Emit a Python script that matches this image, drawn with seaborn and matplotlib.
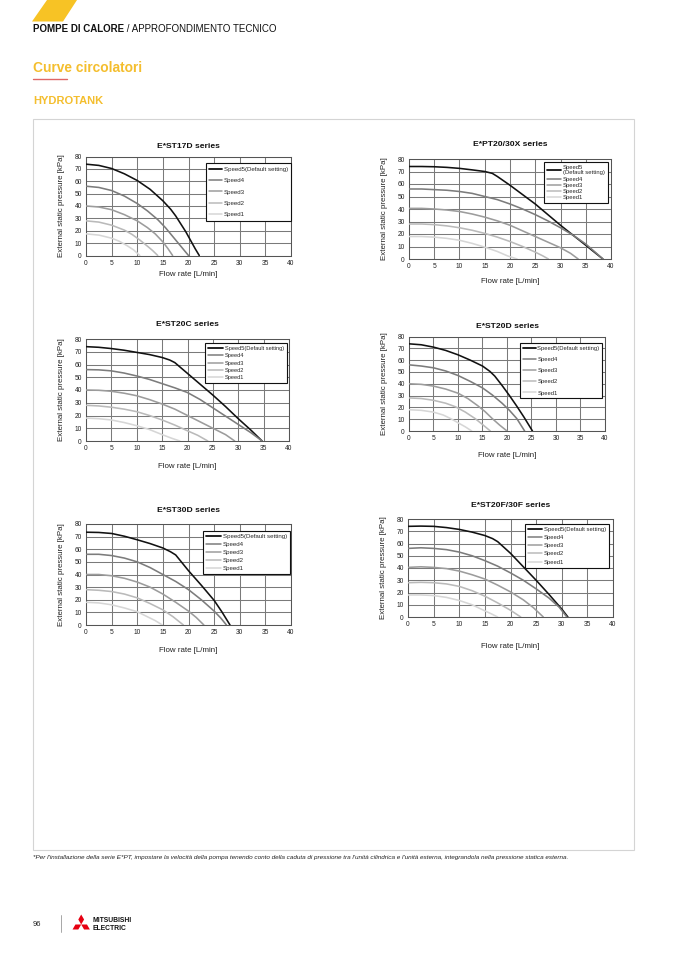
import numpy as np
import pandas as pd
import matplotlib
matplotlib.use("Agg")
import matplotlib.pyplot as plt
import seaborn as sns
from matplotlib.patches import Polygon, Rectangle
from matplotlib.lines import Line2D

# ---------------- data ----------------
speed_labels = ["Speed5(Default setting)", "Speed4", "Speed3", "Speed2", "Speed1"]
speed_colors = ["#111111", "#7c7c7c", "#9c9c9c", "#bababa", "#d6d6d6"]
x_ticks = [0, 5, 10, 15, 20, 25, 30, 35, 40]
y_ticks = [0, 10, 20, 30, 40, 50, 60, 70, 80]

titles = ["E*ST17D series", "E*PT20/30X series", "E*ST20C series",
          "E*ST20D series", "E*ST30D series", "E*ST20F/30F series"]

# E*ST17D  (Speed5, Speed4, Speed3, Speed2, Speed1)
st17d_x = [[0, 2.5, 5, 7.5, 10, 12.5, 15, 16.5, 17.5, 18.5, 19.5, 20.5, 21.3, 22.1],
           [0, 2.5, 5, 7.5, 10, 12, 14, 15.5, 17, 18.5, 20],
           [0, 2.5, 5, 7.5, 10, 12, 13.5, 15, 16, 16.9],
           [0, 2.5, 5, 7.5, 9, 10.5, 12, 13, 14],
           [0, 2.5, 5, 6.5, 8, 9.3, 10.5]]
st17d_y = [[73.8, 72.8, 70.3, 66, 60.6, 53.5, 44.2, 37.5, 32, 25.5, 19, 11.5, 5.5, 0],
           [56, 55, 52.5, 48, 42, 36, 29, 22.5, 15, 7.5, 0],
           [40, 39.2, 37, 33, 28, 22.5, 17.5, 11, 5.5, 0],
           [28, 27, 24.5, 20.5, 17, 12.5, 7.5, 4, 0],
           [17.5, 16.5, 14, 11.5, 8, 4.5, 0]]

# E*PT20/30X
pt20_x = [[0, 2.5, 5, 7.5, 10, 12.5, 15, 16.5, 17.5, 20, 22.5, 25, 27.5, 30, 32.5, 35, 37, 38.4],
          [0, 2.5, 5, 7.5, 10, 12.5, 15, 17.5, 20, 22.5, 25, 27.5, 30, 32.5, 35, 37, 38.4],
          [0, 2.5, 5, 7.5, 10, 12.5, 15, 17.5, 20, 22.5, 25, 27.5, 30, 32, 33.5],
          [0, 2.5, 5, 7.5, 10, 12.5, 15, 17.5, 20, 22.5, 25, 26.5, 27.6],
          [0, 2.5, 5, 7.5, 10, 12.5, 15, 17.5, 19.5, 21.4]]
pt20_y = [[74, 74, 73.8, 73.3, 72.5, 71.3, 70, 68.5, 66, 59, 51.5, 44, 35.5, 27, 19, 11, 4.5, 0],
          [56, 56, 55.5, 55, 54, 52.5, 50, 47.5, 44, 40, 35.5, 30.5, 25, 19, 12, 5, 0],
          [40.5, 40.5, 40, 39.2, 38, 36, 33.5, 30.5, 27, 22.5, 18, 13.5, 9, 4.5, 0],
          [28, 28, 27.5, 26.5, 25, 23, 20.5, 17.5, 14, 10, 5.5, 2.5, 0],
          [18, 18, 17.5, 16.5, 15, 12.5, 9.5, 6, 2.5, 0]]

# E*ST20C
st20c_x = [[0, 2.5, 5, 7.5, 10, 12.5, 15, 16.5, 17.5, 20, 22.5, 25, 27.5, 30, 32.5, 34.7],
           [0, 2.5, 5, 7.5, 10, 12.5, 15, 17.5, 20, 22.5, 25, 27.5, 30, 32.5, 34.7],
           [0, 2.5, 5, 7.5, 10, 12.5, 15, 17.5, 20, 22.5, 25, 27.5, 29.3],
           [0, 2.5, 5, 7.5, 10, 12.5, 15, 17.5, 20, 22, 24],
           [0, 2.5, 5, 7.5, 10, 12.5, 15, 17, 18.5]]
st20c_y = [[74, 73.5, 72.5, 71.2, 69.5, 67.8, 65.5, 63.5, 61.5, 53, 44.5, 36, 27, 17.5, 8.5, 0],
           [56, 55.8, 55, 53.3, 51, 48.3, 45, 41.7, 38, 32.5, 26, 19.5, 13, 6.5, 0],
           [40, 39.8, 39, 37.5, 35.5, 32.5, 29, 25, 20, 15, 10, 5, 0],
           [28, 27.5, 26.5, 25, 23, 20, 16.5, 12.5, 8, 4.5, 0],
           [18, 17.5, 16.5, 14.5, 12, 9, 5, 2, 0]]

# E*ST20D
st20d_x = [[0, 2.5, 5, 7.5, 10, 12.5, 15, 16.5, 17.5, 19, 20.5, 22, 23.5, 25.2],
           [0, 2.5, 5, 7.5, 10, 12.5, 15, 17, 19, 20.5, 22, 23.6],
           [0, 2.5, 5, 7.5, 10, 12, 14, 15.5, 17, 18.5, 20],
           [0, 2.5, 5, 7.5, 9.5, 11.5, 13.5, 15, 16.6],
           [0, 2.5, 5, 7, 8.5, 10, 11.5, 12.8]]
st20d_y = [[73.8, 73, 71, 68.2, 64.5, 60, 55, 50.5, 46.5, 38.5, 30, 21, 11.5, 0],
           [56, 55, 53.5, 50.8, 47, 42, 36.5, 30.5, 23.5, 17.5, 10.5, 0],
           [40, 39.5, 38, 35.5, 32, 27.5, 21.5, 16.5, 10.5, 5, 0],
           [28, 27.5, 26, 23.5, 20.5, 16, 10.5, 5.5, 0],
           [18, 17.5, 16, 13.5, 10.5, 7, 3.5, 0]]

# E*ST30D
st30d_x = [[0, 2.5, 5, 7.5, 10, 12.5, 15, 16.5, 17.5, 20, 22.5, 25, 26.5, 28.1],
           [0, 2.5, 5, 7.5, 10, 12.5, 15, 17.5, 20, 22.5, 25, 26.3, 27.4],
           [0, 2.5, 5, 7.5, 10, 12.5, 15, 17.5, 20, 21.5, 23],
           [0, 2.5, 5, 7.5, 10, 12.5, 15, 17, 19],
           [0, 2.5, 5, 7.5, 10, 12, 13.5, 14.9]]
st30d_y = [[73.5, 73.3, 72.5, 70.3, 67.5, 64.5, 61, 58, 55.5, 43, 31.5, 19.5, 10.5, 0],
           [56, 56, 55, 53, 50, 45.5, 40, 34.5, 28, 20, 11, 5.5, 0],
           [40, 40, 39, 37, 34, 30, 24.5, 18, 11, 6, 0],
           [28, 27.5, 26.5, 24.5, 21.5, 17, 12, 6.5, 0],
           [18, 17.5, 16, 13.5, 10.5, 6.5, 3.5, 0]]

# E*ST20F/30F
st20f_x = [[0, 2.5, 5, 7.5, 10, 12.5, 15, 16.5, 17.5, 20, 22.5, 25, 27.5, 30, 31.2],
           [0, 2.5, 5, 7.5, 10, 12.5, 15, 17.5, 20, 22.5, 25, 27.5, 29.5, 31],
           [0, 2.5, 5, 7.5, 10, 12.5, 15, 17.5, 20, 22.5, 24.5, 26.4],
           [0, 2.5, 5, 7.5, 10, 12.5, 15, 17.5, 20, 22],
           [0, 2.5, 5, 7.5, 10, 12.5, 15, 16.3, 17.5]]
st20f_y = [[74, 74.2, 74, 73, 71.5, 69.3, 66.5, 64, 61.5, 52, 41, 30, 18.5, 6.5, 0],
           [56, 56.5, 56, 55, 53, 50, 46, 41.5, 36, 30, 23, 15.5, 8, 0],
           [40.5, 41, 40.5, 39.5, 37.5, 34.5, 31, 26, 20.5, 14, 7.5, 0],
           [28, 28.3, 28, 27, 25, 21.5, 17, 11.5, 5.5, 0],
           [18, 18, 17.5, 16, 13.5, 10, 5, 2.5, 0]]

chart_x = [st17d_x, pt20_x, st20c_x, st20d_x, st30d_x, st20f_x]
chart_y = [st17d_y, pt20_y, st20c_y, st20d_y, st30d_y, st20f_y]

# ---------------- layout (pixels) ----------------
W, H = 677, 958
# left, right, top, bottom of each plotting area
boxes = [(86, 291, 156.5, 255.5), (409, 611, 159, 259), (86, 289, 339, 441),
         (409, 605, 336.5, 431), (86, 291, 524, 625), (408, 613, 519, 617)]
title_y = [146, 145, 325, 326.7, 511, 505.7]
xlabel_y = [275, 281.7, 466.7, 455.7, 650.7, 646]
# legend: right edge, top edge (px), font size (pt), row height (px), handle length (em)
legend_spec = [(291, 163.3, 4.45, 12.3, 2.1), (607.7, 161.7, 4.2, 6.9, 2.4),
               (286.7, 343.3, 4.1, 8.0, 2.6), (602.3, 343.3, 4.2, 11.8, 2.2),
               (290, 531, 4.4, 8.8, 2.4), (609, 524, 4.2, 8.9, 2.4)]

sns.set_theme(style="white")
plt.rcParams["font.family"] = ["Liberation Sans", "DejaVu Sans"]

fig = plt.figure(figsize=(W / 100, H / 100), dpi=100)
fig.patch.set_facecolor("white")


def fx(px):
    return px / W


def fy(py):
    return 1 - py / H


# header
fig.patches.append(Polygon([[fx(32), fy(21.5)], [fx(47), fy(0)], [fx(77), fy(0)], [fx(63), fy(21.5)]],
                           closed=True, transform=fig.transFigure, facecolor="#F7C325",
                           edgecolor="none"))
t1 = fig.text(fx(33), fy(29), "POMPE DI CALORE", fontsize=7.0, fontweight="bold",
              color="#111111", va="center", ha="left")
fig.canvas.draw()
bb = t1.get_window_extent(fig.canvas.get_renderer())
fig.text(bb.x1 / W, fy(29), " / APPROFONDIMENTO TECNICO", fontsize=7.0, color="#111111",
         va="center", ha="left")
fig.text(fx(33), fy(68), "Curve circolatori", fontsize=9.9, fontweight="bold", color="#F4BE2E",
         va="center", ha="left")
fig.add_artist(Line2D([fx(33), fx(67)], [fy(79.3), fy(79.3)], color="#E06666", lw=1.0,
                      transform=fig.transFigure))
fig.text(fx(33), fy(101.5), "HYDROTANK", fontsize=8.0, fontweight="bold", color="#F4BE2E",
         va="center", ha="left")

# outer frame
fig.patches.append(Rectangle((fx(33), fy(850)), fx(634) - fx(33), fy(118.5) - fy(850),
                             transform=fig.transFigure, facecolor="none", edgecolor="#d4d4d4",
                             lw=0.8))

for i in range(6):
    l, r, t, b = boxes[i]
    ax = fig.add_axes([fx(l), fy(b), (r - l) / W, (b - t) / H])
    rows = []
    for k, lab in enumerate(speed_labels):
        for j, (xv, yv) in enumerate(zip(chart_x[i][k], chart_y[i][k])):
            rows.append({"flow": xv, "pressure": yv, "speed": lab, "order": j})
    df = pd.DataFrame(rows)
    sns.lineplot(data=df, x="flow", y="pressure", hue="speed", hue_order=speed_labels,
                 palette=dict(zip(speed_labels, speed_colors)), sort=False, estimator=None,
                 linewidth=1.15, legend=False, ax=ax, zorder=3)
    ax.set_xlim(0, 40)
    ax.set_ylim(0, 80)
    ax.set_xticks(x_ticks)
    ax.set_yticks(y_ticks)
    ax.grid(True, color="#7a7a7a", lw=0.75)
    ax.set_axisbelow(True)
    for sp in ax.spines.values():
        sp.set_color("#555555")
        sp.set_linewidth(0.75)
    ax.tick_params(axis="both", length=0, labelsize=4.8, colors="#222222", pad=3)
    ax.set_xlabel("")
    ax.set_ylabel("")
    cx = (l + r) / 2
    fig.text(fx(cx), fy(title_y[i]), titles[i], fontsize=6.1, fontweight="bold",
             color="#111111", ha="center", va="center")
    fig.text(fx(cx), fy(xlabel_y[i]), "Flow rate [L/min]", fontsize=5.7, color="#222222",
             ha="center", va="center")
    fig.text(fx(l - 24.5), fy((t + b) / 2), "External static pressure [kPa]", fontsize=5.7,
             color="#222222", ha="center", va="center", rotation=90)

    lr, lt, lfs, rowh, hlen = legend_spec[i]
    labels = list(speed_labels)
    if i == 1:
        labels[0] = "Speed5\n(Default setting)"
    handles = [Line2D([0], [0], color=c, lw=1.3 if k == 0 else 1.1)
               for k, c in enumerate(speed_colors)]
    fs_px = lfs * 100 / 72
    spacing = max(rowh / fs_px - 1.0, 0.1)
    leg = ax.legend(handles, labels, loc="upper right",
                    bbox_to_anchor=((lr - l) / (r - l), 1 - (lt - t) / (b - t)),
                    borderaxespad=0, fontsize=lfs, frameon=True, fancybox=False,
                    edgecolor="#111111", framealpha=1, handlelength=hlen, handletextpad=0.3,
                    labelspacing=spacing, borderpad=0.5)
    leg.get_frame().set_linewidth(0.8)
    leg.set_zorder(5)

# footnote
fig.text(fx(33), fy(857.5),
         "*Per l'installazione della serie E*PT, impostare la velocità della pompa tenendo conto della "
         "caduta di pressione tra l'unità cilindrica e l'unità esterna, integrandola nella pressione "
         "statica esterna.", fontsize=4.55, style="italic", color="#222222", ha="left", va="center")

# footer
fig.text(fx(32.7), fy(925), "96", fontsize=5.4, color="#222222", ha="left", va="center")
fig.add_artist(Line2D([fx(60.7), fx(60.7)], [fy(915), fy(932)], color="#999999", lw=0.6,
                      transform=fig.transFigure))


def rhombus(cx, cy, ang, L=10.0, wd=5.8):
    a = np.deg2rad(ang)
    ux, uy = np.sin(a), -np.cos(a)
    vx, vy = np.cos(a), np.sin(a)
    pts = [(cx, cy), (cx + ux * L / 2 + vx * wd / 2, cy + uy * L / 2 + vy * wd / 2),
           (cx + ux * L, cy + uy * L), (cx + ux * L / 2 - vx * wd / 2, cy + uy * L / 2 - vy * wd / 2)]
    return Polygon([[fx(p[0]), fy(p[1])] for p in pts], closed=True,
                   transform=fig.transFigure, facecolor="#E60012", edgecolor="none")


logo_cx, logo_cy = 81.2, 924.5
for ang in (0, 120, 240):
    fig.patches.append(rhombus(logo_cx, logo_cy, ang))
fig.text(fx(92.7), fy(920.7), "MITSUBISHI", fontsize=4.9, fontweight="bold", color="#111111",
         ha="left", va="center")
fig.text(fx(92.7), fy(928.3), "ELECTRIC", fontsize=4.9, fontweight="bold", color="#111111",
         ha="left", va="center")

fig.savefig("out.png", dpi=100, facecolor="white")
